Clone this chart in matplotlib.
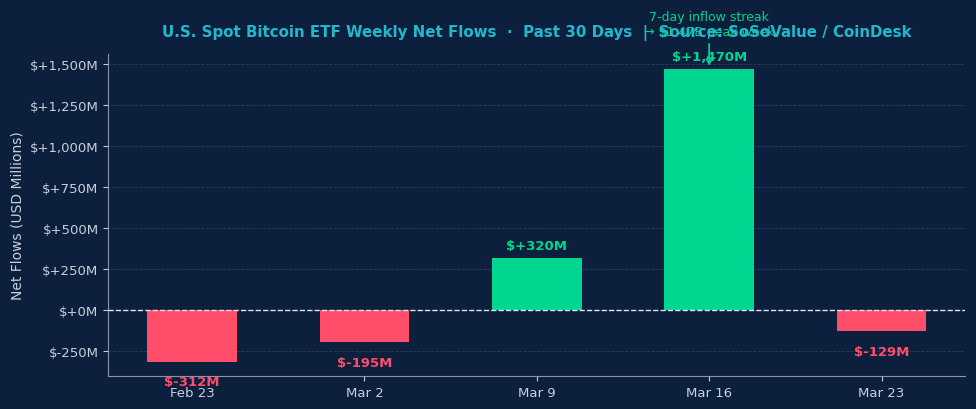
import matplotlib.pyplot as plt

# weekly net flows, USD millions
weeks = ['Feb 23', 'Mar 2', 'Mar 9', 'Mar 16', 'Mar 23']
flows = [-312, -195, 320, 1470, -129]
yticks = [-250, 0, 250, 500, 750, 1000, 1250, 1500]

bg = '#0c1f3d'
green = '#00d68f'
red = '#ff4d6a'
txt = '#c8d0dc'

fig, ax = plt.subplots(figsize=(9.76, 4.10), dpi=100)
fig.patch.set_facecolor(bg)
ax.set_facecolor(bg)

couleurs = [green if v >= 0 else red for v in flows]
x = list(range(len(weeks)))
ax.bar(x, flows, width=0.52, color=couleurs, zorder=3)

for i, v in enumerate(flows):
    lab = '$' + format(v, '+,') + 'M'
    if v >= 0:
        ax.annotate(lab, (i, v), xytext=(0, 4), textcoords='offset points',
                    ha='center', va='bottom', color=green, fontsize=9.5, fontweight='bold', zorder=5)
    else:
        ax.annotate(lab, (i, v), xytext=(0, -10), textcoords='offset points',
                    ha='center', va='top', color=red, fontsize=9.5, fontweight='bold', zorder=5)

ax.axhline(0, color='#e0e6ee', linestyle='--', linewidth=1, zorder=4)

ax.set_xticks(x)
ax.set_xticklabels(weeks)
ax.set_yticks(yticks)
ax.set_yticklabels(['$' + format(t, '+,') + 'M' for t in yticks])
ax.tick_params(colors=txt, labelsize=9.5)
ax.grid(axis='y', color='#2a3d5e', linestyle='--', linewidth=0.6, zorder=0)
for s in ['top', 'right']:
    ax.spines[s].set_visible(False)
for s in ['left', 'bottom']:
    ax.spines[s].set_color('#8a97aa')

ax.set_ylabel('Net Flows (USD Millions)', color=txt, fontsize=10)

ax.annotate('7-day inflow streak\n→ $1.47B peak week', xy=(3, flows[3]), xytext=(3, 1655),
            ha='center', va='bottom', color=green, fontsize=9, annotation_clip=False,
            arrowprops=dict(arrowstyle='->', color=green, lw=1.2), zorder=2)

fig.text(0.55, 0.92, 'U.S. Spot Bitcoin ETF Weekly Net Flows  ·  Past 30 Days  |  Source: SoSoValue / CoinDesk',
         ha='center', va='center', color='#22b8cc', fontsize=10.8, fontweight='bold', zorder=10)

plt.subplots_adjust(left=0.111, right=0.989, top=0.866, bottom=0.08)
plt.savefig('out.png', facecolor=bg)
